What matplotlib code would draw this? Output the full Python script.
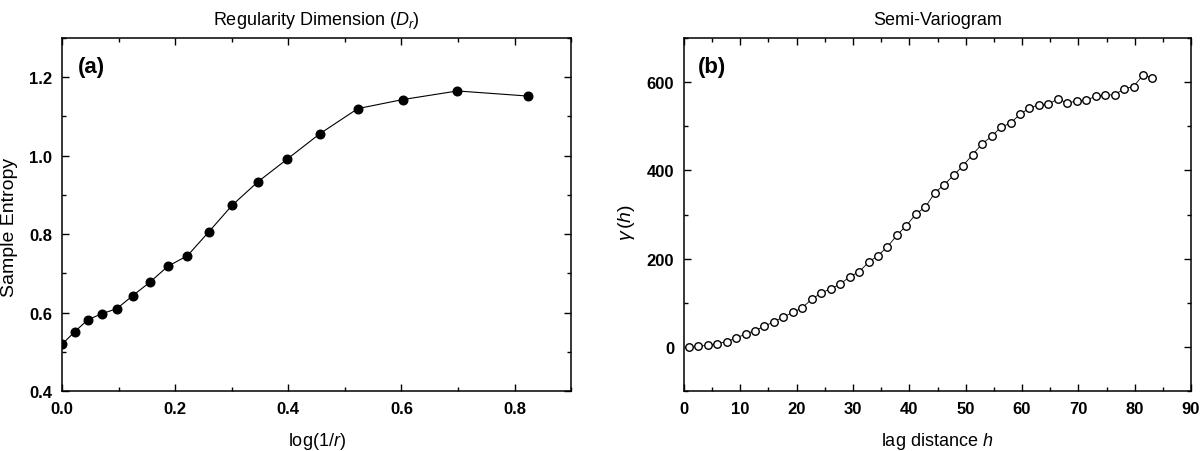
import matplotlib
matplotlib.use('Agg')
import matplotlib.pyplot as plt
from matplotlib.ticker import MultipleLocator

plt.rcParams['font.family'] = ['Liberation Sans', 'DejaVu Sans']
plt.rcParams['mathtext.fontset'] = 'custom'
plt.rcParams['mathtext.rm'] = 'Liberation Sans'
plt.rcParams['mathtext.it'] = 'Liberation Sans:italic'

# panel (a): sample entropy vs log(1/r)
log_inv_r = [0.0, 0.0223, 0.0458, 0.0706, 0.0969, 0.1249, 0.1549, 0.1871, 0.2218,
             0.2596, 0.3010, 0.3468, 0.3979, 0.4559, 0.5229, 0.6021, 0.6990, 0.8239]
samp_en = [0.519, 0.551, 0.582, 0.597, 0.610, 0.643, 0.677, 0.718, 0.745,
           0.806, 0.874, 0.934, 0.991, 1.056, 1.120, 1.143, 1.165, 1.152]

# panel (b): semi-variogram
lag_h = [0.84, 2.52, 4.20, 5.88, 7.56, 9.24, 10.92, 12.60, 14.28, 15.96,
         17.64, 19.32, 21.00, 22.68, 24.36, 26.04, 27.72, 29.40, 31.08, 32.76,
         34.44, 36.12, 37.80, 39.48, 41.16, 42.84, 44.52, 46.20, 47.88, 49.56,
         51.24, 52.92, 54.60, 56.28, 57.96, 59.64, 61.32, 63.00, 64.68, 66.36,
         68.04, 69.72, 71.40, 73.08, 74.76, 76.44, 78.12, 79.80, 81.48, 83.16]
gamma_h = [0, 1.5, 3.5, 7.5, 12, 20, 29, 37, 47, 57,
           68, 78, 89, 108, 122, 132, 142, 159, 170, 192,
           207, 227, 253, 275, 301, 317, 349, 368, 389, 411,
           436, 460, 477, 498, 507, 527, 541, 549, 550, 562,
           553, 557, 559, 568, 571, 571, 585, 590, 616, 609]

fig = plt.figure(figsize=(12, 4.52), dpi=100)
ax1 = fig.add_axes([0.0517, 0.1327, 0.4242, 0.781])
ax2 = fig.add_axes([0.57, 0.1327, 0.4225, 0.781])


def style(ax):
    for s in ax.spines.values():
        s.set_linewidth(1.1)
    ax.tick_params(which='both', direction='in', top=True, right=True, width=1.0)
    ax.tick_params(which='major', length=5, pad=7, labelsize=12)
    ax.tick_params(which='minor', length=3)
    for lab in ax.get_xticklabels() + ax.get_yticklabels():
        lab.set_fontweight('bold')


ax1.plot(log_inv_r, samp_en, color='black', lw=0.8, marker='o', ms=6.2,
         mfc='black', mec='black')
ax1.set_xlim(0, 0.9)
ax1.set_ylim(0.4, 1.3)
ax1.xaxis.set_major_locator(MultipleLocator(0.2))
ax1.xaxis.set_minor_locator(MultipleLocator(0.1))
ax1.yaxis.set_major_locator(MultipleLocator(0.2))
ax1.yaxis.set_minor_locator(MultipleLocator(0.1))
ax1.set_xlabel(r'log(1/$r$)', fontsize=13, labelpad=10)
ax1.set_ylabel('Sample Entropy', fontsize=14)
ax1.yaxis.set_label_coords(-0.086, 0.467)
ax1.set_title(r'Regularity Dimension ($D_r$)', fontsize=13, pad=10)
ax1.text(0.031, 0.918, '(a)', transform=ax1.transAxes, fontsize=16,
         fontweight='bold', va='center', ha='left')
style(ax1)

ax2.plot(lag_h, gamma_h, color='black', lw=0.6, marker='o', ms=5.4,
         mfc='white', mec='black', mew=1.0)
ax2.set_xlim(0, 90)
ax2.set_ylim(-100, 700)
ax2.xaxis.set_major_locator(MultipleLocator(10))
ax2.xaxis.set_minor_locator(MultipleLocator(5))
ax2.yaxis.set_major_locator(MultipleLocator(200))
ax2.yaxis.set_minor_locator(MultipleLocator(100))
ax2.set_xlabel(r'lag distance $h$', fontsize=13, labelpad=10)
ax2.set_ylabel(r'$\gamma\,(h)$', fontsize=14)
ax2.yaxis.set_label_coords(-0.093, 0.48)
ax2.set_title('Semi-Variogram', fontsize=13, pad=10)
ax2.text(0.028, 0.918, '(b)', transform=ax2.transAxes, fontsize=16,
         fontweight='bold', va='center', ha='left')
style(ax2)

fig.savefig('out.png', dpi=100)
